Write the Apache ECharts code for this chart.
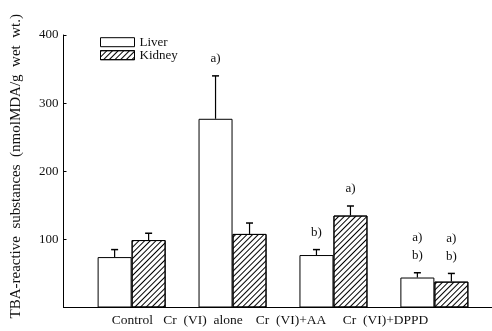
<!DOCTYPE html>
<html>
<head>
<meta charset="utf-8">
<script src="https://cdn.jsdelivr.net/npm/echarts@6/dist/echarts.min.js"></script>
<style>html,body{margin:0;padding:0;background:#fff;}#c{width:492px;height:331px;}</style>
</head>
<body>
<div id="c"></div>
<script>
// ---- data ----
const categories = ['Control', 'Cr  (VI)  alone', 'Cr  (VI)+AA', 'Cr  (VI)+DPPD'];
const seriesNames = ['Liver', 'Kidney'];
const liverMean = [74, 277, 77, 44];
const liverErr = [11, 63, 8, 7];
const kidneyMean = [99, 108, 135, 38];
const kidneyErr = [10, 16, 14, 12];
const liverMarks = ['', 'a)', 'b)', 'a)\nb)'];
const kidneyMarks = ['', '', 'a)', 'a)\nb)'];
const yTicks = [0, 100, 200, 300, 400];

// ---- layout (not data) ----
const labelAnchors = [1.008, 1.707, 2.579, 3.516];
const FONT = 'Liberation Serif';
const INK = '#111';
const BAR_W = 34;

const catPos = categories.map((_, i) => i + 1);
const liverData = liverMean.map((v, i) => [catPos[i], v]);
const kidneyData = kidneyMean.map((v, i) => [catPos[i], v]);
const errData = [];
liverMean.forEach((v, i) => errData.push([catPos[i], v, liverErr[i], -1, liverMarks[i]]));
kidneyMean.forEach((v, i) => errData.push([catPos[i], v, kidneyErr[i], 1, kidneyMarks[i]]));

const hatch = {
  symbol: 'rect', symbolSize: 1,
  dashArrayX: [1, 0], dashArrayY: [1, 2.6],
  rotation: -Math.PI / 4, color: '#000'
};

const chart = echarts.init(document.getElementById('c'), null, {renderer: 'canvas'});
chart.setOption({
  animation: false,
  backgroundColor: '#fff',
  textStyle: {fontFamily: FONT, color: INK},
  grid: {left: 63.5, right: 0, top: 35, bottom: 23.5, containLabel: false},
  legend: {
    orient: 'vertical', left: 100, top: 35.7, padding: 0,
    itemWidth: 34, itemHeight: 9, itemGap: 0,
    icon: 'rect',
    data: seriesNames,
    textStyle: {fontFamily: FONT, fontSize: 13, color: INK, lineHeight: 13},
    itemStyle: {borderColor: '#000', borderWidth: 1}
  },
  xAxis: {
    type: 'value', min: 0.325, max: 4.571,
    axisLine: {show: true, lineStyle: {color: '#000', width: 1}},
    axisTick: {show: false},
    splitLine: {show: false},
    axisLabel: {
      customValues: labelAnchors,
      margin: 6,
      fontFamily: FONT, fontSize: 13.5, color: INK,
      formatter: function (val) {
        const idx = labelAnchors.indexOf(val);
        return idx >= 0 ? categories[idx] : '';
      }
    }
  },
  yAxis: {
    type: 'value', min: 0, max: 400, interval: 100,
    axisLine: {show: true, lineStyle: {color: '#000', width: 1}},
    axisTick: {show: true, inside: true, length: 3, lineStyle: {color: '#000'}},
    splitLine: {show: false},
    axisLabel: {
      margin: 5, fontFamily: FONT, fontSize: 13, color: INK,
      formatter: v => (v === yTicks[0] ? '' : String(v))
    },
    name: 'TBA-reactive  substances  (nmolMDA/g  wet  wt.)',
    nameLocation: 'middle', nameGap: 40,
    nameTextStyle: {fontFamily: FONT, fontSize: 15, color: INK, padding: [0, 0, 0, 10]}
  },
  series: [
    {
      name: seriesNames[0], type: 'bar', data: liverData,
      barWidth: BAR_W, barGap: '0%',
      itemStyle: {color: '#fff', borderColor: '#000', borderWidth: 1}
    },
    {
      name: seriesNames[1], type: 'bar', data: kidneyData,
      barWidth: BAR_W, barGap: '0%',
      itemStyle: {color: '#fff', borderColor: '#000', borderWidth: 1, decal: hatch}
    },
    {
      type: 'custom', clip: false, silent: true,
      encode: {x: 0, y: 1},
      data: errData,
      renderItem: function (params, api) {
        const x = api.value(0), m = api.value(1), e = api.value(2), side = api.value(3);
        const mark = errData[params.dataIndex][4];
        const p0 = api.coord([x, m]);
        const p1 = api.coord([x, m + e]);
        const cx = p0[0] + side * BAR_W / 2;
        const children = [
          {type: 'line', shape: {x1: cx, y1: p0[1], x2: cx, y2: p1[1]}, style: {stroke: '#000', lineWidth: 1.2}},
          {type: 'line', shape: {x1: cx - 3.5, y1: p1[1], x2: cx + 3.5, y2: p1[1]}, style: {stroke: '#000', lineWidth: 1.5}}
        ];
        if (mark) {
          children.push({
            type: 'text',
            x: cx, y: p1[1] - 8,
            style: {text: mark, fontFamily: FONT, fontSize: 13, fill: INK,
              align: 'center', verticalAlign: 'bottom', lineHeight: 18}
          });
        }
        return {type: 'group', children: children};
      }
    }
  ]
});
</script>
</body>
</html>
